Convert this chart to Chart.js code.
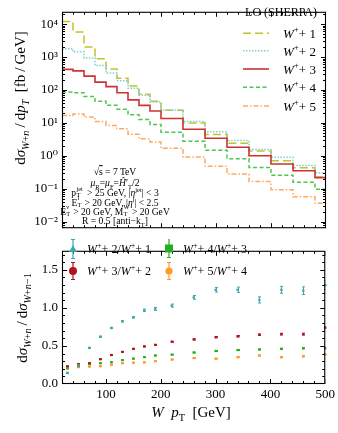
<!DOCTYPE html>
<html><head><meta charset="utf-8">
<script src="https://cdn.jsdelivr.net/npm/chart.js@4.4.1/dist/chart.umd.min.js"></script>
<style>
html,body{margin:0;padding:0;background:#fff;}
body{width:338px;height:433px;position:relative;overflow:hidden;font-family:'Liberation Serif','DejaVu Serif',serif;color:#000;}
.abs{position:absolute;white-space:nowrap;line-height:1;}
.cen{transform:translate(-50%,-50%);}
.rot{transform:translate(-50%,-50%) rotate(-90deg);}
sub,sup{font-size:0.68em;line-height:0;}
.ss{display:inline-block;position:relative;height:0.7em;vertical-align:baseline;}
.ss .u{position:absolute;left:0.05em;top:-0.55em;font-size:0.66em;line-height:1;}
.ss .d{position:absolute;left:0.05em;top:0.45em;font-size:0.66em;line-height:1;}
.leg{position:absolute;font-size:13px;line-height:1;white-space:nowrap;transform:translateY(-50%);}
.ann{position:absolute;white-space:nowrap;line-height:1;transform:translate(-50%,-50%);font-size:9.6px;}
</style></head>
<body>
<canvas id="c1" width="338" height="240" style="position:absolute;left:0;top:0;"></canvas>
<canvas id="c2" width="338" height="194" style="position:absolute;left:0;top:239px;"></canvas>

<!-- axis titles -->
<div class="abs rot" style="left:20px;top:98px;font-size:15px;">d<i>σ</i><sub><i>W</i>+<i>n</i></sub>&thinsp;/&thinsp;d<i>p<sub>T</sub></i>&nbsp; [fb&thinsp;/&thinsp;GeV]</div>
<div class="abs rot" style="left:22px;top:318px;font-size:15px;">d<i>σ</i><sub><i>W</i>+<i>n</i></sub>&thinsp;/&thinsp;d<i>σ</i><sub><i>W</i>+<i>n</i>−1</sub></div>
<div class="abs cen" style="left:191px;top:412px;font-size:15px;"><i>W</i>&nbsp; <i>p</i><sub>T</sub>&nbsp; [GeV]</div>

<!-- top legend -->
<div class="abs cen" style="left:281px;top:12px;font-size:12px;">LO (SHERPA)</div>
<svg class="abs" style="left:240px;top:24px;" width="32" height="90">
 <line x1="3" y1="9.3" x2="29" y2="9.3" stroke="#c2c22a" stroke-width="1.5" stroke-dasharray="8,4"/>
 <line x1="3" y1="26.7" x2="29" y2="26.7" stroke="#7fd0d0" stroke-width="1.5" stroke-dasharray="1.5,1.5"/>
 <line x1="3" y1="45" x2="29" y2="45" stroke="#cc3333" stroke-width="1.6"/>
 <line x1="3" y1="63.3" x2="29" y2="63.3" stroke="#4fc44f" stroke-width="1.5" stroke-dasharray="4,2.5"/>
 <line x1="3" y1="82" x2="29" y2="82" stroke="#ffa860" stroke-width="1.5" stroke-dasharray="5,2,1.5,2"/>
</svg>
<div class="leg" style="left:283px;top:33.3px;"><i>W</i><sup>+</sup>+ 1</div>
<div class="leg" style="left:283px;top:50.7px;"><i>W</i><sup>+</sup>+ 2</div>
<div class="leg" style="left:283px;top:69px;"><i>W</i><sup>+</sup>+ 3</div>
<div class="leg" style="left:283px;top:87.3px;"><i>W</i><sup>+</sup>+ 4</div>
<div class="leg" style="left:283px;top:106px;"><i>W</i><sup>+</sup>+ 5</div>

<!-- annotation -->
<div class="ann" style="left:115px;top:172px;">√<span style="text-decoration:overline">s</span> = 7 TeV</div>
<div class="ann" style="left:115px;top:182.5px;"><i>μ</i><sub>R</sub>=<i>μ</i><sub>F</sub>=<i>Ĥ</i>′<sub>T</sub>/2</div>
<div class="ann" style="left:115px;top:193.3px;">p<span class="ss" style="width:0.9em"><span class="u">jet</span><span class="d">T</span></span> &gt; 25 GeV, |<i>η</i><sup>jet</sup>| &lt; 3</div>
<div class="ann" style="left:115px;top:202.7px;">E<span class="ss" style="width:0.5em"><span class="u">l</span><span class="d">T</span></span> &gt; 20 GeV, |<i>η</i><sup>l</sup>| &lt; 2.5</div>
<div class="ann" style="left:115px;top:211.7px;">E<span class="ss" style="width:0.5em"><span class="u">ν</span><span class="d">T</span></span> &gt; 20 GeV, M<span class="ss" style="width:0.65em"><span class="u">W</span><span class="d">T</span></span> &gt; 20 GeV</div>
<div class="ann" style="left:115px;top:221px;">R = 0.5 [anti−k<sub>T</sub>]</div>

<!-- bottom legend -->
<svg class="abs" style="left:62px;top:239px;" width="120" height="45">
 <g stroke="#3fa9a9" fill="#3fa9a9"><line x1="11" y1="0" x2="11" y2="20" stroke-width="1.2"/><line x1="9" y1="0.5" x2="13" y2="0.5"/><line x1="9" y1="19.5" x2="13" y2="19.5"/><polygon points="11,6 15,13 7,13" stroke="none"/></g>
 <g stroke="#b0141e" fill="#b0141e"><line x1="11" y1="23" x2="11" y2="41" stroke-width="1.2"/><line x1="9" y1="23.5" x2="13" y2="23.5"/><line x1="9" y1="40.5" x2="13" y2="40.5"/><circle cx="11" cy="32" r="4" stroke="none"/></g>
 <g stroke="#22b022" fill="#22b022"><line x1="107" y1="0" x2="107" y2="19" stroke-width="1.2"/><line x1="105" y1="18.5" x2="109" y2="18.5"/><rect x="103" y="5.5" width="8" height="8" stroke="none"/></g>
 <g stroke="#ff9a26" fill="#ff9a26"><line x1="107" y1="23" x2="107" y2="41" stroke-width="1.2"/><line x1="105" y1="23.5" x2="109" y2="23.5"/><line x1="105" y1="40.5" x2="109" y2="40.5"/><circle cx="107" cy="32" r="3.6" stroke="none"/></g>
</svg>
<div class="leg" style="left:87px;top:249px;font-size:12px;"><i>W</i><sup>+</sup>+ 2/<i>W</i><sup>+</sup>+ 1</div>
<div class="leg" style="left:87px;top:271px;font-size:12px;"><i>W</i><sup>+</sup>+ 3/<i>W</i><sup>+</sup>+ 2</div>
<div class="leg" style="left:183px;top:249px;font-size:12px;"><i>W</i><sup>+</sup>+ 4/<i>W</i><sup>+</sup>+ 3</div>
<div class="leg" style="left:183px;top:271px;font-size:12px;"><i>W</i><sup>+</sup>+ 5/<i>W</i><sup>+</sup>+ 4</div>

<script>
// ---------- data ----------
const binEdges = [20,40,60,80,100,120,140,160,180,200,240,280,320,360,400,440,480,520];
const w1 = [11900,5700,2000,880,430,227,131,74,45,24,9.9,4.4,2.4,1.40,0.71,0.43,0.226];
const w2 = [1790,1440,940,553,327,191,113,69,43,24.5,10.9,5.4,2.9,1.56,0.90,0.51,0.30];
const w3 = [421,378,263,173,126,82,50,34,23,13.6,6.4,3.4,1.81,1.0,0.56,0.35,0.217];
const w4 = [86,82,63,45,34,26,17.5,12.7,8.9,5.2,2.77,1.47,0.81,0.44,0.257,0.158,0.097];
const w5 = [16.7,18.6,15,10.9,8.3,6.6,4.5,3.3,2.6,1.70,0.91,0.48,0.28,0.164,0.093,0.057,0.036];

const ratioX = [30,50,70,90,110,130,150,170,190,220,260,300,340,380,420,460,500];
const r21 = [0.145,0.245,0.474,0.62,0.736,0.824,0.876,0.969,0.986,1.03,1.138,1.238,1.238,1.105,1.238,1.226,1.30];
const e21 = [0.008,0.008,0.008,0.008,0.008,0.01,0.01,0.015,0.02,0.02,0.025,0.03,0.035,0.04,0.045,0.05,0.06];
const r32 = [0.233,0.261,0.273,0.326,0.381,0.422,0.462,0.494,0.514,0.555,0.586,0.615,0.627,0.647,0.655,0.655,0.74];
const e32 = [0.005,0.005,0.005,0.005,0.005,0.005,0.005,0.006,0.006,0.007,0.008,0.008,0.009,0.01,0.011,0.012,0.014];
const r43 = [0.21,0.233,0.261,0.273,0.285,0.314,0.333,0.353,0.374,0.386,0.414,0.434,0.446,0.454,0.462,0.47,0.47];
const e43 = [0.004,0.004,0.004,0.004,0.004,0.004,0.005,0.005,0.005,0.005,0.006,0.006,0.006,0.007,0.007,0.008,0.008];
const r54 = [0.20,0.221,0.229,0.233,0.253,0.273,0.28,0.285,0.30,0.321,0.341,0.333,0.353,0.374,0.353,0.365,0.39];
const e54 = [0.004,0.004,0.004,0.004,0.004,0.004,0.005,0.005,0.005,0.005,0.006,0.006,0.007,0.008,0.008,0.009,0.01];

const xTicks = [100,200,300,400,500];
const xMinor = [20,40,60,80,120,140,160,180,220,240,260,280,320,340,360,380,420,440,460,480];
const logTicks = [0.01,0.1,1,10,100,1000,10000];
const logTickLabels = ['10⁻²','10⁻¹','10⁰','10¹','10²','10³','10⁴'];
const ratioTicks = [0,0.5,1.0,1.5];
const ratioMinor = [0.1,0.2,0.3,0.4,0.6,0.7,0.8,0.9,1.1,1.2,1.3,1.4,1.6,1.7];

// ---------- helpers ----------
function hist(vals){
  const pts = vals.map((v,i)=>({x:binEdges[i], y:v}));
  pts.push({x:binEdges[binEdges.length-1], y:vals[vals.length-1]});
  return pts;
}
function logMinor(){
  const out=[];
  for(let e=-3;e<=4;e++) for(let m=2;m<=9;m++) out.push(m*Math.pow(10,e));
  return out;
}
const FONT = {family:"'Liberation Serif', 'DejaVu Serif', serif", size:13};

const frameTicks = {
  id:'frameTicks',
  afterDraw(chart, args, o){
    const {ctx, chartArea:a, scales} = chart;
    ctx.save();
    ctx.beginPath();
    ctx.rect(a.left, a.top, a.right-a.left, a.bottom-a.top);
    ctx.clip();
    ctx.strokeStyle='#000'; ctx.lineWidth=1;
    const seg=(x1,y1,x2,y2)=>{ctx.beginPath();ctx.moveTo(x1,y1);ctx.lineTo(x2,y2);ctx.stroke();};
    const xs=(list,len)=>list.forEach(v=>{const p=Math.round(scales.x.getPixelForValue(v))+0.5; seg(p,a.bottom,p,a.bottom-len); seg(p,a.top,p,a.top+len);});
    const ys=(list,len)=>list.forEach(v=>{const p=Math.round(scales.y.getPixelForValue(v))+0.5; if(p<a.top||p>a.bottom) return; seg(a.left,p,a.left+len,p); seg(a.right,p,a.right-len,p);});
    xs(o.xMajor,5); xs(o.xMinor,3);
    ys(o.yMajor,5); ys(o.yMinor,3);
    ctx.restore();
    ctx.save();
    ctx.strokeStyle='#000'; ctx.lineWidth=1.1;
    ctx.strokeRect(a.left+0.5, a.top+0.5, a.right-a.left-1, a.bottom-a.top-1);
    ctx.restore();
  }
};

const errorBars = {
  id:'errorBars',
  afterDatasetsDraw(chart){
    const {ctx, chartArea:a, scales} = chart;
    ctx.save();
    ctx.beginPath(); ctx.rect(a.left,a.top,a.right-a.left,a.bottom-a.top); ctx.clip();
    chart.data.datasets.forEach(ds=>{
      ctx.strokeStyle = ds.borderColor; ctx.lineWidth=1;
      ds.data.forEach((p,i)=>{
        if(p.y==null) return;
        const e = ds.errors[i];
        const x = Math.round(scales.x.getPixelForValue(p.x))+0.5;
        const y1 = scales.y.getPixelForValue(p.y+e), y2 = scales.y.getPixelForValue(p.y-e);
        ctx.beginPath();
        ctx.moveTo(x,y1); ctx.lineTo(x,y2);
        ctx.moveTo(x-1.5,y1); ctx.lineTo(x+1.5,y1);
        ctx.moveTo(x-1.5,y2); ctx.lineTo(x+1.5,y2);
        ctx.stroke();
      });
    });
    ctx.restore();
  }
};

// ---------- top chart ----------
const lineDs = (label, vals, color, dash, w) => ({
  label, data: hist(vals), borderColor: color, borderWidth: w||1.5, borderDash: dash,
  stepped: 'before', pointRadius: 0, fill: false, tension: 0
});

new Chart(document.getElementById('c1'), {
  type:'line',
  data:{ datasets:[
    lineDs('W+ + 5', w5, '#ffa860', [5,2,1.5,2]),
    lineDs('W+ + 4', w4, '#4fc44f', [4,2.5]),
    lineDs('W+ + 3', w3, '#cc3333', [], 1.6),
    lineDs('W+ + 2', w2, '#7fd0d0', [1.5,1.5]),
    lineDs('W+ + 1', w1, '#c2c22a', [8,4]),
  ]},
  options:{
    responsive:false, animation:false, devicePixelRatio:1,
    layout:{padding:{top:1,right:12,bottom:1,left:0}},
    plugins:{legend:{display:false}, tooltip:{enabled:false},
      frameTicks:{xMajor:xTicks, xMinor:xMinor, yMajor:logTicks, yMinor:logMinor()}},
    scales:{
      x:{type:'linear', min:20, max:500, display:false},
      y:{type:'logarithmic', min:Math.pow(10,-2.2), max:Math.pow(10,4.373),
        afterFit:s=>{s.width=62;},
        afterBuildTicks:s=>{s.ticks=logTicks.map(v=>({value:v}));},
        grid:{display:false, drawTicks:false}, border:{display:false},
        ticks:{font:FONT, color:'#000', padding:4, autoSkip:false,
          callback:(v)=>{const i=logTicks.findIndex(t=>Math.abs(t-v)/t<1e-6); return i>=0?logTickLabels[i]:'';}}
      }
    }
  },
  plugins:[frameTicks]
});

// ---------- bottom chart ----------
const ptDs = (label, ys, errs, color, r) => ({
  label, data: ratioX.map((x,i)=>({x, y:ys[i]})), errors: errs,
  borderColor: color, backgroundColor: color, showLine:false,
  pointStyle:'rect', pointRadius: r||1.6, pointBorderWidth:0, clip:false
});

new Chart(document.getElementById('c2'), {
  type:'line',
  data:{ datasets:[
    ptDs('W+ + 5/W+ + 4', r54, e54, '#ff9a26'),
    ptDs('W+ + 4/W+ + 3', r43, e43, '#22b022'),
    ptDs('W+ + 3/W+ + 2', r32, e32, '#b0141e'),
    ptDs('W+ + 2/W+ + 1', r21, e21, '#3fa9a9'),
  ]},
  options:{
    responsive:false, animation:false, devicePixelRatio:1,
    layout:{padding:{top:0,right:12,bottom:0,left:0}},
    plugins:{legend:{display:false}, tooltip:{enabled:false},
      frameTicks:{xMajor:xTicks, xMinor:xMinor, yMajor:ratioTicks, yMinor:ratioMinor}},
    scales:{
      x:{type:'linear', min:20, max:500,
        afterFit:s=>{s.height=49;},
        afterBuildTicks:s=>{s.ticks=xTicks.map(v=>({value:v}));},
        grid:{display:false, drawTicks:false}, border:{display:false},
        ticks:{font:FONT, color:'#000', padding:3, maxRotation:0, autoSkip:false}},
      y:{type:'linear', min:0, max:1.75,
        afterFit:s=>{s.width=62;},
        afterBuildTicks:s=>{s.ticks=ratioTicks.map(v=>({value:v}));},
        grid:{display:false, drawTicks:false}, border:{display:false},
        ticks:{font:FONT, color:'#000', padding:4, autoSkip:false, callback:v=>Number(v).toFixed(1)}}
    }
  },
  plugins:[frameTicks, errorBars]
});
</script>
</body></html>
